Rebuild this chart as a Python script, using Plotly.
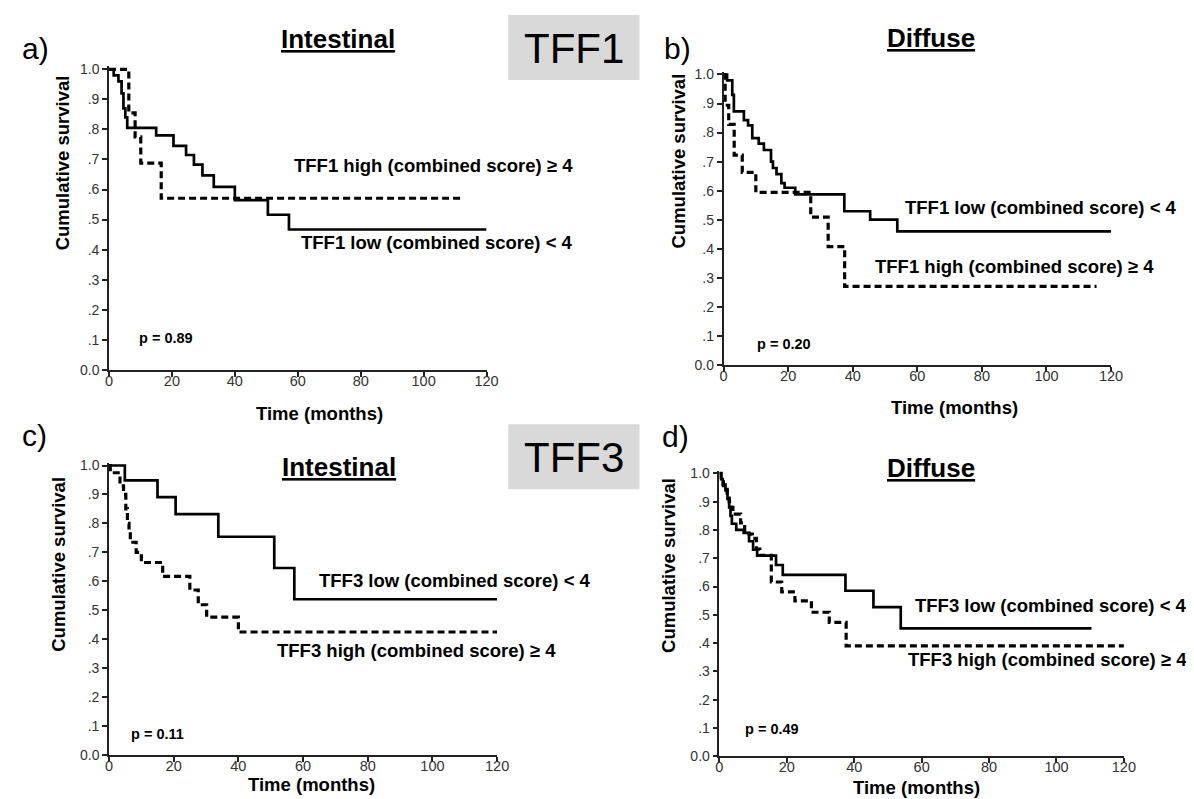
import plotly.graph_objects as go

W, H = 1194, 799

# ---------------- data ----------------
# Panel a: TFF1, Intestinal
a_low_t = [0, 1.5, 3.0, 4.0, 4.6, 5.2, 5.8, 15.0, 20.5, 24.5, 27.0, 29.7, 33.3, 40.0, 50.5, 57.2, 120]
a_low_s = [1.0, 0.98, 0.96, 0.92, 0.87, 0.84, 0.805, 0.78, 0.745, 0.715, 0.683, 0.647, 0.609, 0.565, 0.516, 0.467, 0.467]
a_high_t = [0, 6.3, 8.3, 10.1, 16.6, 111.7]
a_high_s = [1.0, 0.855, 0.775, 0.688, 0.571, 0.571]

# Panel b: TFF1, Diffuse
b_low_t = [0, 1.1, 2.7, 3.2, 6.3, 7.6, 8.9, 10.9, 12.5, 14.7, 15.3, 16.4, 17.9, 18.9, 22.2, 37.4, 45.4, 53.8, 120]
b_low_s = [1.0, 0.98, 0.93, 0.873, 0.843, 0.825, 0.781, 0.762, 0.74, 0.70, 0.678, 0.657, 0.626, 0.61, 0.587, 0.529, 0.50, 0.46, 0.46]
b_high_t = [0, 0.5, 1.6, 3.3, 5.8, 10.0, 27.0, 32.4, 37.5, 115.5]
b_high_s = [1.0, 0.894, 0.828, 0.722, 0.663, 0.594, 0.509, 0.407, 0.27, 0.27]

# Panel c: TFF3, Intestinal
c_low_t = [0, 4.9, 15.0, 20.6, 33.8, 51.1, 57.3, 120]
c_low_s = [1.0, 0.949, 0.891, 0.832, 0.754, 0.646, 0.538, 0.538]
c_high_t = [0, 0.4, 3.4, 4.5, 5.2, 5.7, 6.2, 6.6, 8.4, 10.0, 16.6, 25.0, 27.6, 30.2, 40.0, 120]
c_high_s = [1.0, 0.975, 0.93, 0.90, 0.85, 0.80, 0.77, 0.735, 0.70, 0.665, 0.617, 0.57, 0.519, 0.476, 0.425, 0.425]

# Panel d: TFF3, Diffuse
d_low_t = [0, 0.5, 1.0, 1.8, 2.4, 2.9, 3.3, 3.7, 5.0, 7.2, 8.8, 10.0, 11.2, 16.8, 18.8, 37.4, 45.7, 53.8, 110.4]
d_low_s = [1.0, 0.98, 0.96, 0.94, 0.91, 0.88, 0.85, 0.822, 0.80, 0.79, 0.76, 0.73, 0.709, 0.676, 0.641, 0.585, 0.527, 0.452, 0.452]
d_high_t = [0, 0.5, 1.2, 2.3, 2.9, 3.5, 4.0, 6.3, 7.5, 8.8, 9.8, 11.0, 12.0, 15.4, 18.5, 22.4, 27.3, 32.6, 37.6, 120]
d_high_s = [1.0, 0.97, 0.95, 0.93, 0.90, 0.88, 0.856, 0.825, 0.798, 0.785, 0.77, 0.732, 0.71, 0.616, 0.581, 0.549, 0.509, 0.473, 0.39, 0.39]

x_tickvals = [0, 20, 40, 60, 80, 100, 120]
x_ticktext = ["0", "20", "40", "60", "80", "100", "120"]
y_tickvals = [0.0, 0.1, 0.2, 0.3, 0.4, 0.5, 0.6, 0.7, 0.8, 0.9, 1.0]
y_ticktext = ["0.0", ".1", ".2", ".3", ".4", ".5", ".6", ".7", ".8", ".9", "1.0"]

p_values = ["p = 0.89", "p = 0.20", "p = 0.11", "p = 0.49"]
panel_letters = ["a)", "b)", "c)", "d)"]
panel_titles = ["Intestinal", "Diffuse", "Intestinal", "Diffuse"]
low_labels = ["TFF1 low (combined score) < 4", "TFF1 low (combined score) < 4",
              "TFF3 low (combined score) < 4", "TFF3 low (combined score) < 4"]
high_labels = ["TFF1 high (combined score) ≥ 4", "TFF1 high (combined score) ≥ 4",
               "TFF3 high (combined score) ≥ 4", "TFF3 high (combined score) ≥ 4"]
marker_labels = ["TFF1", "TFF3"]

# ---------------- layout geometry (pixels) ----------------
FONT = "Liberation Sans, Arial, Helvetica, sans-serif"
geo = [
    dict(x0=98.3, x120=481.0, y1=57.3, y0=362.7,
         letter=(23.5, 36.5), title=(330.5, 26.5), ytitle=(51.5, 152), xtitle=(312, 407),
         low=(290.7, 233.5), high=(283.3, 155.5), p=(126.7, 330)),
    dict(x0=721.2, x120=1114.0, y1=62.5, y0=357.7,
         letter=(674.5, 36), title=(931, 25.5), ytitle=(676, 150), xtitle=(955, 401),
         low=(903, 198), high=(872.6, 258), p=(753, 336)),
    dict(x0=98.3, x120=491.7, y1=460.0, y0=754.3,
         letter=(22.5, 429.5), title=(331, 461.5), ytitle=(47.5, 560), xtitle=(304, 784),
         low=(309.3, 576.5), high=(266.7, 648), p=(119, 732.5)),
    dict(x0=717.0, x120=1127.0, y1=468.0, y0=755.5,
         letter=(672.5, 431), title=(931, 462.5), ytitle=(666, 562), xtitle=(917, 787),
         low=(913, 602.5), high=(906.5, 657.5), p=(741, 728)),
]
series = [
    (a_low_t, a_low_s, a_high_t, a_high_s),
    (b_low_t, b_low_s, b_high_t, b_high_s),
    (c_low_t, c_low_s, c_high_t, c_high_s),
    (d_low_t, d_low_s, d_high_t, d_high_s),
]


def px(x):
    return x / W


def py(y):
    return 1 - y / H


fig = go.Figure()
layout = dict(
    width=W, height=H, margin=dict(l=0, r=0, t=0, b=0),
    paper_bgcolor="white", plot_bgcolor="white", showlegend=False,
    font=dict(family=FONT, color="black"),
)
annotations = []
shapes = []

YTOP = 1.01
for i, g in enumerate(geo):
    n = "" if i == 0 else str(i + 1)
    ppu_y = (g["y0"] - g["y1"]) / 1.0
    top_px = g["y1"] - (YTOP - 1.0) * ppu_y
    layout["xaxis" + n] = dict(
        domain=[px(g["x0"]), px(g["x120"])], range=[0, 120], anchor="y" + n,
        showline=True, linecolor="#222", linewidth=1.5, ticks="outside", ticklen=5,
        tickwidth=1.5, tickcolor="#222", showgrid=False, zeroline=False,
        tickvals=x_tickvals, ticktext=x_ticktext, ticklabelstandoff=-8,
        tickfont=dict(family=FONT, size=14.5, color="#333"), fixedrange=True,
    )
    layout["yaxis" + n] = dict(
        domain=[py(g["y0"]), py(top_px)], range=[0, YTOP], anchor="x" + n,
        showline=True, linecolor="#222", linewidth=1.5, ticks="outside", ticklen=5,
        tickwidth=1.5, tickcolor="#222", showgrid=False, zeroline=False,
        tickvals=y_tickvals, ticktext=y_ticktext,
        tickfont=dict(family=FONT, size=14, color="#333"), fixedrange=True,
    )
    lt, ls, ht, hs = series[i]
    fig.add_trace(go.Scatter(x=lt, y=ls, mode="lines", xaxis="x" + n, yaxis="y" + n,
                             line=dict(shape="hv", color="black", width=2.7),
                             hoverinfo="skip"))
    fig.add_trace(go.Scatter(x=ht, y=hs, mode="lines", xaxis="x" + n, yaxis="y" + n,
                             line=dict(shape="hv", color="black", width=3.2, dash="7px,4px"),
                             hoverinfo="skip"))

    def ann(text, pos, size, bold=False, xanchor="center", angle=0, color="black"):
        t = "<b>" + text + "</b>" if bold else text
        annotations.append(dict(
            text=t, x=px(pos[0]), y=py(pos[1]), xref="paper", yref="paper",
            xanchor=xanchor, yanchor="middle", showarrow=False, textangle=angle,
            font=dict(family=FONT, size=size, color=color),
        ))

    ann(panel_letters[i], g["letter"], 30)
    ann("<u>" + panel_titles[i] + "</u>", g["title"], 26, bold=True)
    ann("Cumulative survival", g["ytitle"], 18.5, bold=True, angle=-90)
    ann("Time (months)", g["xtitle"], 18.5, bold=True)
    ann(low_labels[i], g["low"], 18.5, bold=True, xanchor="left")
    ann(high_labels[i], g["high"], 18.5, bold=True, xanchor="left")
    ann(p_values[i], g["p"], 14.5, bold=True, xanchor="left")

# Gray marker boxes "TFF1" / "TFF3"
boxes = [(503, 2, 636, 68), (503, 418, 636, 484)]
for (x0, y0, x1, y1), lab in zip(boxes, marker_labels):
    shapes.append(dict(type="rect", xref="paper", yref="paper",
                       x0=px(x0), x1=px(x1), y0=py(y1), y1=py(y0),
                       fillcolor="#d9d9d9", line=dict(width=0), layer="below"))
    annotations.append(dict(text=lab, x=px((x0 + x1) / 2), y=py((y0 + y1) / 2 + 1),
                            xref="paper", yref="paper", xanchor="center", yanchor="middle",
                            showarrow=False, font=dict(family=FONT, size=42, color="black")))

layout["annotations"] = annotations
layout["shapes"] = shapes
fig.update_layout(**layout)
fig.write_html("out.html")
